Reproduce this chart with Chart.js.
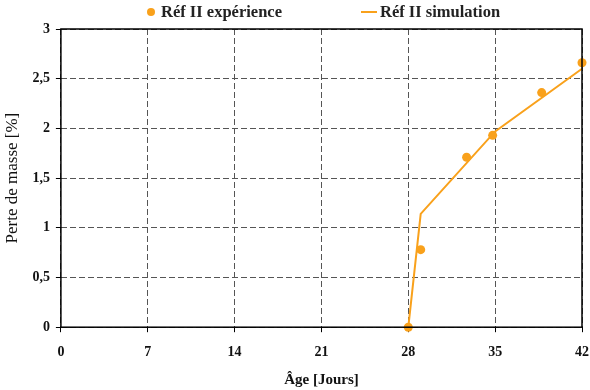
<!DOCTYPE html>
<html>
<head>
<meta charset="utf-8">
<script src="https://cdn.jsdelivr.net/npm/chart.js@4/dist/chart.umd.min.js"></script>
<style>
  html, body { margin: 0; padding: 0; background: #fff; }
  #wrap { position: relative; width: 590px; height: 390px; }
  #legend {
    position: absolute; top: 2px; left: 147px;
    display: flex; align-items: center;
    font: bold 16.5px "Liberation Serif", serif; color: #222;
  }
  #legend .item { display: flex; align-items: center; margin-right: 79px; }
  #legend .dot { width: 8px; height: 8px; border-radius: 50%; margin-right: 6px; }
  #legend .line { width: 16px; height: 2px; margin-right: 3px; }
</style>
</head>
<body>
<div id="wrap">
  <canvas id="chart" width="590" height="390"></canvas>
  <div id="legend"></div>
</div>
<script>
// Age in days, mass loss in %
const expDays = [28, 29, 32.7, 34.8, 38.75, 42];
const expLoss = [0, 0.78, 1.71, 1.93, 2.36, 2.66];
const simDays = [28, 29, 35, 42];
const simLoss = [0, 1.14, 1.97, 2.6];
const xTicks = [0, 7, 14, 21, 28, 35, 42];
const yTicks = [0, 0.5, 1, 1.5, 2, 2.5, 3];

const ORANGE = "#f9a11b";
const FONT = "Liberation Serif";

const toPoints = (xs, ys) => xs.map((x, i) => ({ x, y: ys[i] }));

// solid black frame round the plot area
const frame = {
    id: "frame",
    afterDatasetsDraw(chart) {
        const { ctx, chartArea: a } = chart;
        ctx.save();
        ctx.strokeStyle = "#000";
        ctx.lineWidth = 1.5;
        ctx.strokeRect(a.left, a.top, a.right - a.left, a.bottom - a.top);
        ctx.restore();
    },
};

const datasets = [
    {
        label: "Réf II expérience",
        data: toPoints(expDays, expLoss),
        showLine: false,
        pointRadius: 4.5,
        pointBackgroundColor: ORANGE,
        pointBorderWidth: 0,
        order: 0,
    },
    {
        label: "Réf II simulation",
        data: toPoints(simDays, simLoss),
        showLine: true,
        borderColor: ORANGE,
        borderWidth: 2,
        pointRadius: 0,
        tension: 0,
        order: 1,
    },
];

const grid = {
    color: "#555",
    lineWidth: 1,
    tickColor: "#000",
    tickLength: 5,
    tickBorderDash: [],
};

new Chart(document.getElementById("chart"), {
    type: "scatter",
    data: { datasets },
    options: {
        responsive: false,
        animation: false,
        clip: false,
        layout: { padding: { top: 29, right: 4, left: 0, bottom: 2 } },
        plugins: { legend: { display: false }, tooltip: { enabled: false } },
        scales: {
            x: {
                type: "linear", min: 0, max: 42,
                afterBuildTicks: s => { s.ticks = xTicks.map(v => ({ value: v })); },
                // the big label padding would otherwise push the right edge in
                afterFit: s => { s.paddingRight = 8; },
                ticks: { color: "#111", font: { family: FONT, size: 14, weight: "bold" }, padding: 12 },
                grid: { ...grid, borderDash: [6, 3] },
                border: { display: false, dash: [6, 3] },
                title: { display: true, text: "Âge [Jours]", color: "#111",
                         font: { family: FONT, size: 15, weight: "bold", lineHeight: 1 },
                         padding: { top: 0, bottom: 0 } },
            },
            y: {
                min: 0, max: 3,
                afterBuildTicks: s => { s.ticks = yTicks.map(v => ({ value: v })); },
                ticks: { color: "#111", font: { family: FONT, size: 14, weight: "bold" }, padding: 6,
                         callback: v => String(v).replace(".", ",") },
                grid: { ...grid },
                border: { display: false, dash: [6, 3] },
                title: { display: true, text: "Perte de masse [%]", color: "#111",
                         font: { family: FONT, size: 17 }, padding: { top: 2, bottom: 4 } },
            },
        },
    },
    plugins: [frame],
});

// HTML legend built from the datasets
const legend = document.getElementById("legend");
datasets.forEach(ds => {
    const item = document.createElement("div");
    item.className = "item";
    const mark = document.createElement("span");
    mark.className = ds.showLine ? "line" : "dot";
    mark.style.background = ORANGE;
    item.appendChild(mark);
    item.appendChild(document.createTextNode(ds.label));
    legend.appendChild(item);
});
</script>
</body>
</html>
